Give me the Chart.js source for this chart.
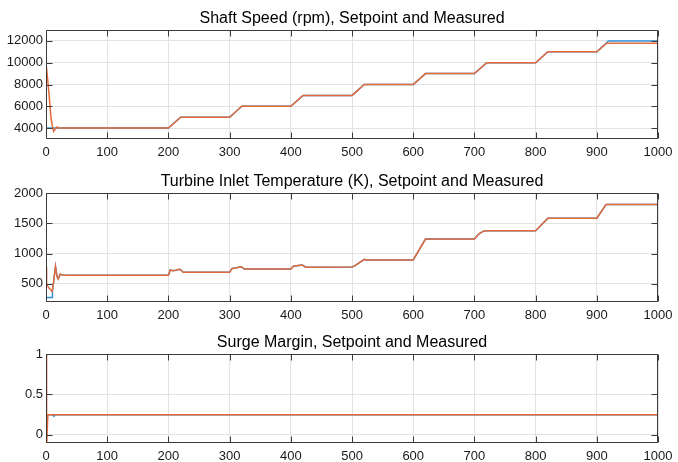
<!DOCTYPE html>
<html>
<head>
<meta charset="utf-8">
<script src="https://cdn.jsdelivr.net/npm/chart.js@4"></script>
<style>
  body { margin: 0; background: #fff; }
  #wrap { position: relative; width: 678px; height: 462px; overflow: hidden; }
  .plot { position: absolute; left: 0; width: 678px; }
</style>
</head>
<body>
<div id="wrap">
  <div class="plot" style="top:0px;height:160px"><canvas id="speed-chart"></canvas></div>
  <div class="plot" style="top:163px;height:160px"><canvas id="temp-chart"></canvas></div>
  <div class="plot" style="top:324px;height:138px"><canvas id="surge-chart"></canvas></div>
</div>
<script>
// x axis (time) ticks shared by all three plots
const xTicks = [0, 100, 200, 300, 400, 500, 600, 700, 800, 900, 1000];

// Shaft speed (rpm)
const speedTicks = [4000, 6000, 8000, 10000, 12000];
const speedSetTime = [0, 200, 220, 300, 320, 400, 420, 500, 520, 600, 620, 700, 720, 800, 820, 900, 919, 1000];
const speedSet = [4000, 4000, 5000, 5000, 6000, 6000, 7000, 7000, 8000, 8000, 9000, 9000, 10000, 10000, 11000, 11000, 12000, 12000];
const speedMeasTime = [0, 3, 5, 8, 10, 12.5, 15, 18, 21, 25, 200, 220, 300, 320, 400, 420, 500, 520, 600, 620, 700, 720, 800, 820, 900, 916, 1000];
const speedMeas = [10000, 8300, 7100, 5000, 4300, 3700, 3900, 4100, 4000, 4000, 4000, 5000, 5000, 6000, 6000, 7000, 7000, 8000, 8000, 9000, 9000, 10000, 10000, 11000, 11000, 11780, 11780];

// Turbine inlet temperature (K)
const tempTicks = [500, 1000, 1500, 2000];
const tempSetTime = [0, 10, 10.5, 12, 15.5, 18, 20, 23, 26, 30, 200, 203, 207, 212, 218, 220, 224, 300, 304, 310, 318, 320, 324, 400, 404, 418, 420, 424, 500, 505, 520, 523, 600, 620, 700, 708, 715, 720, 800, 820, 900, 915, 1000];
const tempSet = [275, 275, 375, 500, 785, 620, 580, 660, 650, 640, 640, 730, 715, 725, 740, 735, 690, 690, 755, 760, 780, 775, 745, 745, 790, 810, 805, 775, 780, 800, 905, 895, 895, 1240, 1240, 1330, 1370, 1375, 1375, 1585, 1585, 1810, 1810];
const tempMeasTime = [0, 1, 5, 10, 12, 15.5, 18, 20, 23, 26, 30, 200, 203, 207, 212, 218, 220, 224, 300, 304, 310, 318, 320, 324, 400, 404, 418, 420, 424, 500, 505, 520, 523, 600, 620, 700, 708, 715, 720, 800, 820, 900, 915, 1000];
const tempMeas = [775, 485, 430, 375, 500, 785, 620, 580, 660, 650, 640, 640, 730, 715, 725, 740, 735, 690, 690, 755, 760, 780, 775, 745, 745, 790, 810, 805, 775, 780, 800, 905, 895, 895, 1240, 1240, 1330, 1370, 1375, 1375, 1585, 1585, 1810, 1810];

// Surge margin
const surgeTicks = [0, 0.5, 1];
const surgeSetTime = [0, 11, 13, 15, 1000];
const surgeSet = [0.25, 0.25, 0.23, 0.25, 0.25];
const surgeMeasTime = [0, 1, 3, 1000];
const surgeMeas = [1, -0.15, 0.25, 0.25];

const BLUE = '#3291d6';
const ORANGE = '#e56a3a';
const FONT = 'Liberation Sans, Arial, sans-serif';

function points(t, v) {
    return t.map((x, i) => ({ x: x, y: v[i] }));
}

// MATLAB style box with inward tick marks, title centred over the axes
const boxPlugin = {
    id: 'matlabBox',
    afterDatasetsDraw(chart, args, opts) {
        const { ctx, chartArea: a, scales: { x, y } } = chart;
        const L = Math.round(a.left) + 0.5, R = Math.round(a.right) - 0.5;
        const T = Math.round(a.top) + 0.5, B = Math.round(a.bottom) - 0.5;
        ctx.save();
        ctx.strokeStyle = '#3a3a3a';
        ctx.lineWidth = 1;
        ctx.beginPath();
        ctx.rect(L, T, R - L, B - T);
        x.ticks.forEach(t => {
            const px = Math.round(x.getPixelForValue(t.value)) + 0.5;
            ctx.moveTo(px, B); ctx.lineTo(px, B - 6);
            ctx.moveTo(px, T); ctx.lineTo(px, T + 6);
        });
        y.ticks.forEach(t => {
            const py = Math.round(y.getPixelForValue(t.value)) + 0.5;
            ctx.moveTo(L, py); ctx.lineTo(L + 6, py);
            ctx.moveTo(R, py); ctx.lineTo(R - 6, py);
        });
        ctx.stroke();

        ctx.fillStyle = '#000';
        ctx.font = '16px ' + FONT;
        ctx.textAlign = 'center';
        ctx.textBaseline = 'middle';
        ctx.fillText(opts.text, (a.left + a.right) / 2, 18.5);
        ctx.restore();
    }
};

function makeChart(id, title, yMin, yMax, yTicks, setT, setV, measT, measV, xHeight) {
    const ctx = document.getElementById(id).getContext('2d');
    return new Chart(ctx, {
        type: 'line',
        data: {
            datasets: [{
                label: 'Setpoint',
                data: points(setT, setV),
                borderColor: BLUE,
                borderWidth: 1.5,
                pointRadius: 0,
                tension: 0,
                order: 1
            }, {
                label: 'Measured',
                data: points(measT, measV),
                borderColor: ORANGE,
                borderWidth: 1.5,
                pointRadius: 0,
                tension: 0,
                order: 0
            }]
        },
        options: {
            responsive: true,
            maintainAspectRatio: false,
            animation: false,
            layout: { autoPadding: false, padding: { left: 0, right: 13, top: 30, bottom: 0 } },
            plugins: {
                legend: { display: false },
                tooltip: { enabled: false },
                title: { display: false },
                matlabBox: { text: title }
            },
            scales: {
                x: {
                    type: 'linear',
                    min: 0,
                    max: 1000,
                    afterBuildTicks: s => { s.ticks = xTicks.map(v => ({ value: v })); },
                    afterFit: s => { s.height = xHeight; },
                    grid: { color: '#e3e3e3', drawTicks: false },
                    border: { display: false },
                    ticks: {
                        color: '#1a1a1a',
                        padding: 5.5,
                        maxRotation: 0,
                        autoSkip: false,
                        callback: v => String(v),
                        font: { family: FONT, size: 13 }
                    }
                },
                y: {
                    min: yMin,
                    max: yMax,
                    afterBuildTicks: s => { s.ticks = yTicks.map(v => ({ value: v })); },
                    afterFit: s => { s.width = 46; },
                    grid: { color: '#e3e3e3', drawTicks: false },
                    border: { display: false },
                    ticks: {
                        color: '#1a1a1a',
                        padding: 3,
                        callback: v => String(v),
                        font: { family: FONT, size: 13 }
                    }
                }
            }
        },
        plugins: [boxPlugin]
    });
}

makeChart('speed-chart', 'Shaft Speed (rpm), Setpoint and Measured', 3000, 13000, speedTicks,
    speedSetTime, speedSet, speedMeasTime, speedMeas, 21);
makeChart('temp-chart', 'Turbine Inlet Temperature (K), Setpoint and Measured', 200, 2000, tempTicks,
    tempSetTime, tempSet, tempMeasTime, tempMeas, 21);
makeChart('surge-chart', 'Surge Margin, Setpoint and Measured', -0.1, 1, surgeTicks,
    surgeSetTime, surgeSet, surgeMeasTime, surgeMeas, 19);
</script>
</body>
</html>
